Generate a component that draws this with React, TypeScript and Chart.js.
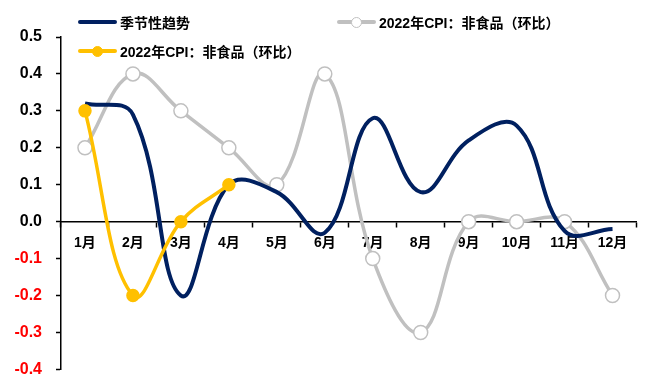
import React, { useEffect, useRef } from "react";
import { Chart, registerables } from "chart.js";

Chart.register(...registerables);

const months = ["1月", "2月", "3月", "4月", "5月", "6月", "7月", "8月", "9月", "10月", "11月", "12月"];
const seasonalTrend = [0.32, 0.29, -0.2, 0.1, 0.08, -0.03, 0.28, 0.08, 0.22, 0.26, -0.025, -0.02];
const nonFoodGray = [0.2, 0.4, 0.3, 0.2, 0.1, 0.4, -0.1, -0.3, 0.0, 0.0, 0.0, -0.2];
const nonFoodYellow = [0.3, -0.2, 0.0, 0.1];

const NAVY = "#002060";
const GRAY = "#c0c0c0";
const YELLOW = "#ffc000";
const FONT = "'Liberation Sans', Arial, 'Noto Sans CJK SC', sans-serif";

// The canvas runs a little past the visible frame so the plot reaches the bottom edge.
const CANVAS_W = 645;
const CANVAS_H = 393;

const seriesNames = ["季节性趋势", "2022年CPI：非食品（环比）", "2022年CPI：非食品（环比）"];

function LegendItem(props: { x: number; y: number; color: string; marker: "none" | "hollow" | "filled"; label: string }) {
  const { x, y, color, marker, label } = props;
  return (
    <div style={{ position: "absolute", left: x, top: y - 12, height: 24, display: "flex", alignItems: "center" }}>
      <div style={{ position: "relative", width: 39, height: 24 }}>
        <div style={{ position: "absolute", left: 0, top: 10, width: 39, height: 4, background: color, borderRadius: 2 }} />
        {marker !== "none" && (
          <div
            style={{
              position: "absolute",
              left: 19.5 - 5.5,
              top: 12 - 5.5,
              width: 11,
              height: 11,
              boxSizing: "border-box",
              borderRadius: "50%",
              background: marker === "hollow" ? "#fff" : color,
              border: `1.5px solid ${color}`,
            }}
          />
        )}
      </div>
      <span style={{ marginLeft: 3, font: `bold 14px ${FONT}`, color: "#000", whiteSpace: "nowrap" }}>{label}</span>
    </div>
  );
}

export default function App() {
  const canvasRef = useRef<HTMLCanvasElement | null>(null);

  useEffect(() => {
    if (!canvasRef.current) return;
    const chart = new Chart(canvasRef.current, {
      type: "line",
      data: {
        labels: months,
        datasets: [
          {
            label: seriesNames[1],
            data: nonFoodGray,
            borderColor: GRAY,
            borderWidth: 3.5,
            tension: 0.4,
            pointRadius: 7,
            pointBackgroundColor: "#fff",
            pointBorderColor: GRAY,
            pointBorderWidth: 1.5,
            order: 3,
          },
          {
            label: seriesNames[0],
            data: seasonalTrend,
            borderColor: NAVY,
            borderWidth: 4,
            tension: 0.4,
            pointRadius: 0,
            order: 2,
          },
          {
            label: seriesNames[2],
            data: nonFoodYellow,
            borderColor: YELLOW,
            borderWidth: 3.5,
            tension: 0.4,
            pointRadius: 5,
            pointBackgroundColor: YELLOW,
            pointBorderColor: YELLOW,
            order: 1,
          },
        ],
      },
      options: {
        animation: false,
        responsive: false,
        maintainAspectRatio: false,
        layout: { padding: { left: 0, right: 8, top: 37, bottom: 0 } },
        plugins: { legend: { display: false }, tooltip: { enabled: false } },
        scales: {
          x: {
            position: { y: 0 },
            offset: true,
            grid: {
              offset: true,
              drawOnChartArea: false,
              drawTicks: true,
              tickLength: 5,
              tickWidth: 1.5,
              color: "#000",
            },
            border: { display: true, color: "#000", width: 1.5 },
            ticks: {
              color: "#000",
              padding: 8,
              maxRotation: 0,
              autoSkip: false,
              font: { family: FONT, size: 14, weight: "bold" },
            },
          },
          y: {
            min: -0.4,
            max: 0.5,
            afterFit: (scale: any) => {
              scale.width = 61;
            },
            grid: {
              drawOnChartArea: false,
              drawTicks: true,
              tickLength: 5,
              tickWidth: 1.5,
              color: "#000",
            },
            border: { display: true, color: "#000", width: 1.5 },
            ticks: {
              stepSize: 0.1,
              padding: 14,
              color: (ctx: any) => (ctx.tick && ctx.tick.value < -1e-9 ? "#ff0000" : "#000"),
              font: { family: FONT, size: 16, weight: "bold" },
              callback: (v: any) => Number(v).toFixed(1),
            },
          },
        },
      },
    });
    return () => chart.destroy();
  }, []);

  return (
    <div style={{ position: "absolute", left: 0, top: 0, width: 645, height: 376, background: "#fff", overflow: "hidden" }}>
      <canvas
        ref={canvasRef}
        width={CANVAS_W}
        height={CANVAS_H}
        style={{ position: "absolute", left: 0, top: 0, width: CANVAS_W, height: CANVAS_H }}
      />
      <LegendItem x={78} y={22} color={NAVY} marker="none" label={seriesNames[0]} />
      <LegendItem x={337} y={22} color={GRAY} marker="hollow" label={seriesNames[1]} />
      <LegendItem x={78} y={51} color={YELLOW} marker="filled" label={seriesNames[2]} />
    </div>
  );
}
